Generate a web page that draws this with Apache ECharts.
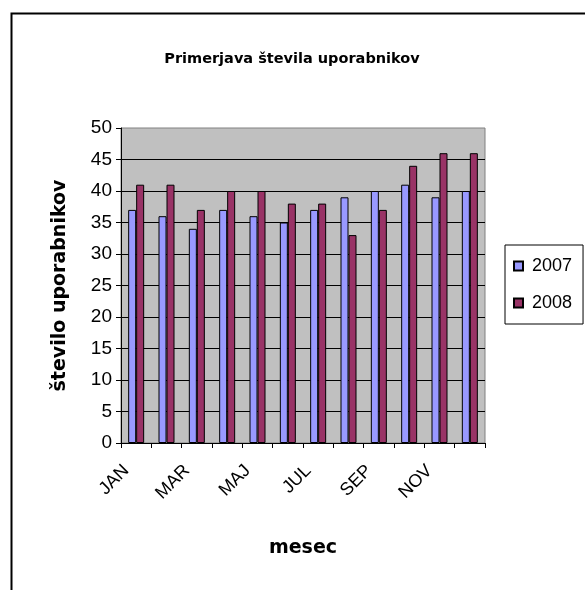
<!DOCTYPE html>
<html>
<head>
<meta charset="utf-8">
<script src="https://cdn.jsdelivr.net/npm/echarts@6/dist/echarts.min.js"></script>
<style>
html,body{margin:0;padding:0;background:#fff;}
#chart{width:585px;height:590px;}
</style>
</head>
<body>
<div id="chart"></div>
<script>
const months = ['JAN','FEB','MAR','APR','MAJ','JUN','JUL','AVG','SEP','OKT','NOV','DEC'];
const seriesNames = ['2007','2008'];
const values2007 = [37,36,34,37,36,35,37,39,40,41,39,40];
const values2008 = [41,41,37,40,40,38,38,33,37,44,46,46];
const yTicks = [0,5,10,15,20,25,30,35,40,45,50];

const FONT = 'Arial, "Liberation Sans", sans-serif';
const BOLD = '"DejaVu Sans", sans-serif';
const chart = echarts.init(document.getElementById('chart'), null, {renderer:'canvas'});
chart.setOption({
  animation:false,
  backgroundColor:'#ffffff',
  title:{
    text:'Primerjava števila uporabnikov',
    left:287, top:47, textAlign:'center',
    textStyle:{fontFamily:BOLD, fontSize:14.5, fontWeight:'bold', color:'#000'}
  },
  graphic:[{
    type:'rect', left:9, top:11, shape:{width:600,height:600},
    style:{fill:'none', stroke:'#000', lineWidth:2}, silent:true, z:-1
  }],
  legend:{
    orient:'vertical', left:505, top:245,
    padding:[12,11,12,8], itemGap:19,
    itemWidth:9, itemHeight:9, icon:'rect',
    borderColor:'#000', borderWidth:1, backgroundColor:'#fff',
    textStyle:{fontFamily:FONT, fontSize:18, color:'#000', padding:[0,0,0,4]},
    data:seriesNames
  },
  grid:{
    left:121, top:128, width:364, height:315,
    show:true, backgroundColor:'#c0c0c0', borderColor:'#808080', borderWidth:1
  },
  xAxis:{
    type:'category', data:months, boundaryGap:true,
    name:'mesec', nameLocation:'middle', nameGap:96,
    nameTextStyle:{fontFamily:BOLD, fontSize:19, fontWeight:'bold', color:'#000'},
    axisLine:{show:true, lineStyle:{color:'#000', width:1}},
    axisTick:{show:true, interval:0, length:5, lineStyle:{color:'#000'}},
    axisLabel:{interval:1, rotate:45, margin:15, fontFamily:FONT, fontSize:18, color:'#000',
      padding:[0,14,0,0]},
    splitLine:{show:false}
  },
  yAxis:{
    type:'value', min:0, max:50, interval:5,
    name:'število uporabnikov', nameLocation:'middle', nameGap:51,
    nameTextStyle:{fontFamily:BOLD, fontSize:19, fontWeight:'bold', color:'#000'},
    axisLine:{show:true, lineStyle:{color:'#000', width:1}},
    axisTick:{show:true, length:5, lineStyle:{color:'#000'}},
    axisLabel:{margin:9, fontFamily:FONT, fontSize:19, color:'#000',
      formatter:function(v){return yTicks.indexOf(v)>=0 ? String(v) : '';}},
    splitLine:{show:true, showMaxLine:false, lineStyle:{color:'#000', width:1}}
  },
  series:[
    {name:seriesNames[0], type:'bar', data:values2007, barWidth:8, barGap:'0%',
     itemStyle:{color:'#9999ff', borderColor:'#000', borderWidth:1}},
    {name:seriesNames[1], type:'bar', data:values2008, barWidth:8, barGap:'0%',
     itemStyle:{color:'#993366', borderColor:'#000', borderWidth:1}}
  ]
});
</script>
</body>
</html>
